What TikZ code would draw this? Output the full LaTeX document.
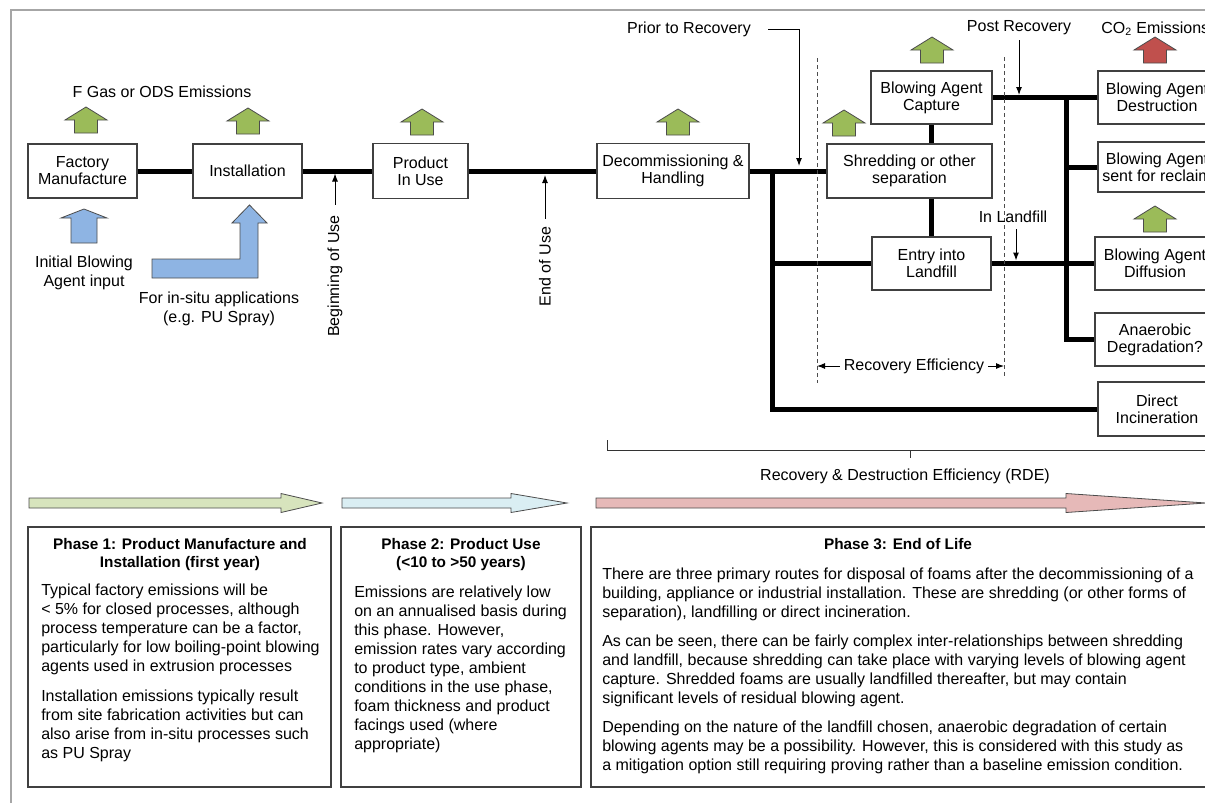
\documentclass[tikz,border=0pt]{standalone}
\usepackage{fontspec}
\setmainfont{Liberation Sans}
\usetikzlibrary{arrows.meta,calc}

\definecolor{emitgreen}{HTML}{9BBB59}
\definecolor{emitred}{HTML}{C0504D}
\definecolor{inblue}{HTML}{8EB4E3}
\definecolor{phgreen}{HTML}{D7E4BD}
\definecolor{phblue}{HTML}{DAEEF3}
\definecolor{phred}{HTML}{E6B9B8}
\definecolor{framegray}{HTML}{A6A6A6}
\definecolor{boxline}{HTML}{404040}

\newcommand{\lblfont}{\fontsize{12}{12.8}\selectfont}
\newcommand{\txtfont}{\fontsize{12}{14.25}\selectfont}
\newcommand{\hdrfont}{\fontsize{11.5}{13.5}\selectfont\bfseries}

% emission arrow: tip x, tip y, fill
\newcommand{\emitarrow}[3]{%
  \draw[emitline, fill=#3] (#1,#2) -- ++(21,13) -- ++(-9.5,0) -- ++(0,13)
    -- ++(-23,0) -- ++(0,-13) -- ++(-9.5,0) -- cycle;}
% phase arrow: start x, head x, tip x, fill
\newcommand{\phasearrow}[4]{%
  \draw[emitline, fill=#4] (#1,498) -- (#2,498) -- (#2,493.5) -- (#3,503)
    -- (#2,512.5) -- (#2,508) -- (#1,508) -- cycle;}

\begin{document}
\begin{tikzpicture}[x=0.75pt, y=-0.75pt,
    box/.style={draw=boxline, line width=0.9pt, fill=white, align=center, font=\lblfont, inner sep=0pt},
    bus/.style={line width=3.75pt},
    lbl/.style={font=\lblfont, inner sep=0pt, align=center},
    ann/.style={-{Latex[length=6pt,width=4.5pt]}, line width=0.75pt},
    sep/.style={dash pattern=on 3pt off 2.25pt, line width=0.75pt, black!70},
    emitline/.style={draw=black!70, line width=0.6pt},
    phasebox/.style={draw=boxline, line width=1pt, fill=white, inner sep=0pt},
    hdr/.style={font=\hdrfont, align=center, inner sep=0pt, anchor=base},
    body/.style={font=\txtfont, align=left, inner sep=0pt, anchor=base west}]
    \useasboundingbox (0,0) rectangle (1205,803);
    \clip (0,0) rectangle (1205,803);

    \draw[framegray, line width=1.5pt] (10.5,803) -- (10.5,9.5) -- (1210,9.5);

    % process boxes
    \node[box, minimum width=81.75pt, minimum height=40.5pt] (fact) at (82.5,171) {Factory\\Manufacture};
    \node[box, minimum width=81.75pt, minimum height=40.5pt] (inst) at (247.5,171) {Installation};
    \node[box, minimum width=71.25pt, minimum height=41.25pt] (use) at (420.5,171) {Product\\In Use};
    \node[box, minimum width=114pt, minimum height=41.25pt] (decom) at (673,171) {Decommissioning \&\\Handling};
    \node[box, minimum width=90.75pt, minimum height=39.75pt] (capt) at (931.5,97.5) {Blowing Agent\\Capture};
    \node[box, minimum width=123.75pt, minimum height=40.5pt] (shred) at (909.5,171) {Shredding or other\\separation};
    \node[box, minimum width=89.25pt, minimum height=39.75pt] (entry) at (931.5,263.5) {Entry into\\Landfill};
    \node[box, minimum width=88.5pt, minimum height=39.75pt] (destr) at (1157,97.5) {Blowing Agent\\Destruction};
    \node[box, minimum width=88.5pt, minimum height=37.5pt] (recl) at (1157,167) {Blowing Agent\\sent for reclaim};
    \node[box, minimum width=90pt, minimum height=39.75pt] (diff) at (1155,263.5) {Blowing Agent\\Diffusion};
    \node[box, minimum width=90pt, minimum height=39.75pt] (anaer) at (1155,339.5) {Anaerobic\\Degradation?};
    \node[box, minimum width=88.5pt, minimum height=40.5pt] (incin) at (1157,409) {Direct\\Incineration};

    % main route
    \draw[bus] (fact) -- (inst);
    \draw[bus] (inst) -- (use);
    \draw[bus] (use) -- (decom);
    \draw[bus] (decom) -- (shred);
    \coordinate (jl) at (772,171);
    \coordinate (jle) at (772,263.5);
    \draw[bus] (jl) |- (incin.west);
    \draw[bus] (jle) -- (entry.west);
    \draw[bus] (capt.south) -- (capt.south |- shred.north);
    \draw[bus] (entry.north |- shred.south) -- (entry.north);
    \coordinate (jr) at (1066,97.5);
    \draw[bus] (capt.east) -- (destr.west);
    \draw[bus] (jr) |- (anaer.west);
    \draw[bus] (recl.west -| jr) -- (recl.west);
    \draw[bus] (entry.east) -- (diff.west);

    % recovery boundaries
    \draw[sep] (817,58) -- (817,383);
    \draw[sep] (1004,57) -- (1004,377);
    \node[lbl, inner sep=3pt] (receff) at (914,366) {Recovery Efficiency};
    \coordinate (dl) at (817,366);
    \coordinate (dr) at (1004,366);
    \draw[ann] (receff.west) -- (dl);
    \draw[ann] (receff.east) -- (dr);

    % markers on the route
    \node[lbl, rotate=90] (buse) at (335,276) {Beginning of Use};
    \coordinate (bu) at (335,173.5);
    \draw[ann] ($(buse.east)+(0,-10)$) -- (bu);
    \node[lbl, rotate=90] (euse) at (545,266.5) {End of Use};
    \coordinate (eu) at (545,175);
    \draw[ann] ($(euse.east)+(0,-8)$) -- (eu);
    \node[lbl] (prior) at (689,29) {Prior to Recovery};
    \coordinate (pr) at (799,166);
    \draw[ann] ($(prior.east)+(17,0)$) -| (pr);
    \node[lbl] (post) at (1019,28) {Post Recovery};
    \coordinate (po) at (1019,95);
    \draw[ann] ($(post.south)+(0,5)$) -- (po);
    \node[lbl] (inlf) at (1013,217) {In Landfill};
    \coordinate (lf) at (1016,260.5);
    \draw[ann] ($(lf |- inlf.south)+(0,6)$) -- (lf);

    % emissions
    \node[lbl] (fgas) at (162,92) {F Gas or ODS Emissions};
    \node[lbl, anchor=west] (co2) at (1101,29) {CO\textsubscript{2} Emissions};
    \emitarrow{86}{107}{emitgreen}
    \emitarrow{248}{108}{emitgreen}
    \emitarrow{422}{109}{emitgreen}
    \emitarrow{678}{109}{emitgreen}
    \emitarrow{932}{37}{emitgreen}
    \emitarrow{844}{110}{emitgreen}
    \emitarrow{1155}{206}{emitgreen}
    \emitarrow{1155}{37}{emitred}

    % blowing agent input
    \draw[emitline, fill=inblue] (84,209) -- (107,218) -- (97,218) -- (97,243)
        -- (71,243) -- (71,218) -- (61,218) -- cycle;
    \draw[emitline, fill=inblue] (152,278) -- (258,278) -- (258,223) -- (267,223)
        -- (249.5,205) -- (232,223) -- (240,223) -- (240,259) -- (152,259) -- cycle;
    \node[lbl, font=\txtfont] (initbl) at (84,272.5) {Initial Blowing\\Agent input};
    \node[lbl, font=\txtfont] (insitu) at (219,309) {For in-situ applications\\(e.g. PU Spray)};

    % RDE bracket
    \draw[line width=0.75pt, black!80] (607,440) -- (607,450) -- (1210,450);
    \draw[line width=0.75pt, black!80] (910,450) -- (910,458);
    \node[lbl] (rde) at (905,476) {Recovery \& Destruction Efficiency (RDE)};

    % phases
    \phasearrow{29}{281}{322}{phgreen}
    \phasearrow{342}{511}{567}{phblue}
    \phasearrow{596}{1066}{1206}{phred}

    \node[phasebox, minimum width=227.25pt, minimum height=195pt] (p1) at (179.5,657) {};
    \node[phasebox, minimum width=180pt, minimum height=195pt] (p2) at (461,657) {};
    \node[phasebox, minimum width=467.25pt, minimum height=195pt] (p3) at (902.5,657) {};

    % text anchors sit on the last line
    \node[hdr] at (180,567.5) {Phase 1: Product Manufacture and\\Installation (first year)};
    \node[body] at (41,758) {Typical factory emissions will be\\
        < 5\% for closed processes, although\\
        process temperature can be a factor,\\
        particularly for low boiling-point blowing\\
        agents used in extrusion processes\\[8pt]
        Installation emissions typically result\\
        from site fabrication activities but can\\
        also arise from in-situ processes such\\
        as PU Spray};

    \node[hdr] at (461,567.5) {Phase 2: Product Use\\(<10 to >50 years)};
    \node[body] at (354,749) {Emissions are relatively low\\
        on an annualised basis during\\
        this phase. However,\\
        emission rates vary according\\
        to product type, ambient\\
        conditions in the use phase,\\
        foam thickness and product\\
        facings used (where\\
        appropriate)};

    \node[hdr] at (898,549.5) {Phase 3: End of Life};
    \node[body] at (602,770) {There are three primary routes for disposal of foams after the decommissioning of a\\
        building, appliance or industrial installation. These are shredding (or other forms of\\
        separation), landfilling or direct incineration.\\[7.5pt]
        As can be seen, there can be fairly complex inter-relationships between shredding\\
        and landfill, because shredding can take place with varying levels of blowing agent\\
        capture. Shredded foams are usually landfilled thereafter, but may contain\\
        significant levels of residual blowing agent.\\[7.5pt]
        Depending on the nature of the landfill chosen, anaerobic degradation of certain\\
        blowing agents may be a possibility. However, this is considered with this study as\\
        a mitigation option still requiring proving rather than a baseline emission condition.};
\end{tikzpicture}
\end{document}
